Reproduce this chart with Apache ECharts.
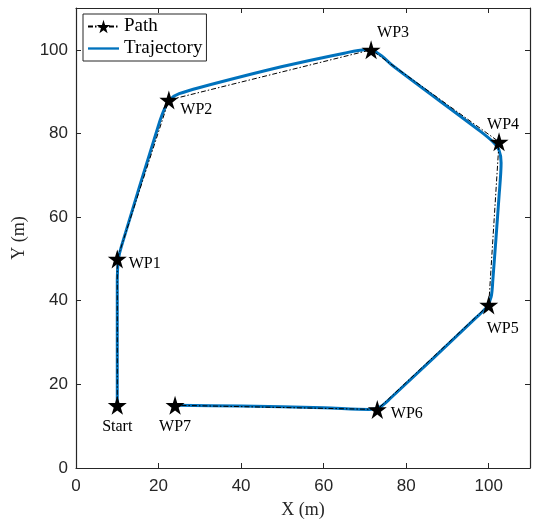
<!DOCTYPE html>
<html lang="en">
<head>
<meta charset="UTF-8">
<title>Path and Trajectory</title>
<script src="https://cdn.jsdelivr.net/npm/echarts@6/dist/echarts.min.js"></script>
<style>
html, body { margin: 0; padding: 0; background: #fff; }
#chart { width: 535px; height: 524px; }
</style>
</head>
<body>
<div id="chart"></div>
<script>
// waypoints of the planned path
const wpNames = ['Start', 'WP1', 'WP2', 'WP3', 'WP4', 'WP5', 'WP6', 'WP7'];
const wpX = [10, 10, 22.5, 71.5, 102.5, 100, 73, 24];
const wpY = [15, 50, 88, 100, 78, 39, 14, 15];
// label side for each waypoint
const wpLabelPos = ['bottom', 'right', 'right', 'top', 'top', 'bottom', 'right', 'bottom'];
const wpLabelOff = [[0, 0], [-2, 5], [-2, 10], [22, 4], [4, 4], [14, 2], [0, 4], [0, 0]];

// trajectory actually followed
const trajX = [10, 10, 10, 10.3, 11, 20, 21.5, 23, 25, 30, 50, 65, 70, 72, 74, 77, 98, 101, 102.5, 103, 102.5, 101, 100.6, 99.5, 97, 76, 73.5, 71, 60, 40, 24];
const trajY = [15, 30, 45, 50, 53, 82, 86, 88.3, 89.5, 91, 96, 99.2, 100, 99.8, 98.6, 96, 80.5, 78, 76, 73, 65, 45, 41, 38.5, 36, 16.5, 14.5, 14, 14.4, 14.8, 15];

const xTicks = [0, 20, 40, 60, 80, 100];
const yTicks = [0, 20, 40, 60, 80, 100];

const star = 'path://M50,0 L61,35 L98,35 L68,57 L79,91 L50,70 L21,91 L32,57 L2,35 L39,35 Z';
const serif = '"Liberation Serif", "Times New Roman", serif';
const sans = '"Liberation Sans", Arial, sans-serif';

const pathData = wpNames.map((n, i) => ({
  value: [wpX[i], wpY[i]],
  label: { position: wpLabelPos[i], offset: wpLabelOff[i] }
}));
const trajData = trajX.map((x, i) => [x, trajY[i]]);

const axisCommon = {
  type: 'value', min: 0, max: 110, interval: 20,
  splitLine: { show: false },
  axisLine: { show: true, onZero: false, lineStyle: { color: '#262626', width: 1.2 } },
  axisTick: { show: true, inside: true, length: 5, lineStyle: { color: '#262626' } }
};

const chart = echarts.init(document.getElementById('chart'));
chart.setOption({
  animation: false,
  grid: { left: 76, top: 8, right: 5, bottom: 55 },
  legend: {
    left: 83, top: 14,
    orient: 'vertical',
    itemGap: 3,
    itemWidth: 31, itemHeight: 17,
    padding: [3, 4, 3, 4],
    borderColor: '#262626', borderWidth: 1,
    backgroundColor: '#fff',
    textStyle: { fontFamily: serif, fontSize: 19, color: '#000' },
    data: [
      'Path',
      { name: 'Trajectory', icon: 'path://M0,0 L40,0 L40,3 L0,3 Z', itemStyle: { color: '#0072BD' } }
    ]
  },
  xAxis: [
    Object.assign({}, axisCommon, {
      position: 'bottom',
      name: 'X (m)', nameLocation: 'middle', nameGap: 33,
      nameTextStyle: { fontFamily: serif, fontSize: 18, color: '#262626' },
      axisLabel: { fontFamily: sans, fontSize: 17, color: '#262626', margin: 10,
        formatter: v => xTicks.includes(v) ? String(v) : '' }
    }),
    Object.assign({}, axisCommon, { position: 'top', axisLabel: { show: false } })
  ],
  yAxis: [
    Object.assign({}, axisCommon, {
      position: 'left',
      name: 'Y (m)', nameLocation: 'middle', nameGap: 46,
      nameTextStyle: { fontFamily: serif, fontSize: 18, color: '#262626' },
      axisLabel: { fontFamily: sans, fontSize: 17, color: '#262626', margin: 8,
        formatter: v => yTicks.includes(v) ? String(v) : '' }
    }),
    Object.assign({}, axisCommon, { position: 'right', axisLabel: { show: false } })
  ],
  series: [
    {
      name: 'Path',
      type: 'line',
      data: pathData,
      symbol: star,
      symbolSize: 19,
      itemStyle: { color: '#000' },
      lineStyle: { color: '#000', width: 1, type: [5, 2, 1.5, 2] },
      label: {
        show: true,
        formatter: p => wpNames[p.dataIndex],
        fontFamily: serif, fontSize: 16, color: '#000', distance: 4
      },
      z: 3
    },
    {
      name: 'Trajectory',
      type: 'line',
      data: trajData,
      symbol: 'none',
      smooth: 0.3,
      lineStyle: { color: '#0072BD', width: 3 },
      itemStyle: { color: '#0072BD' },
      z: 2
    }
  ]
});
</script>
</body>
</html>
